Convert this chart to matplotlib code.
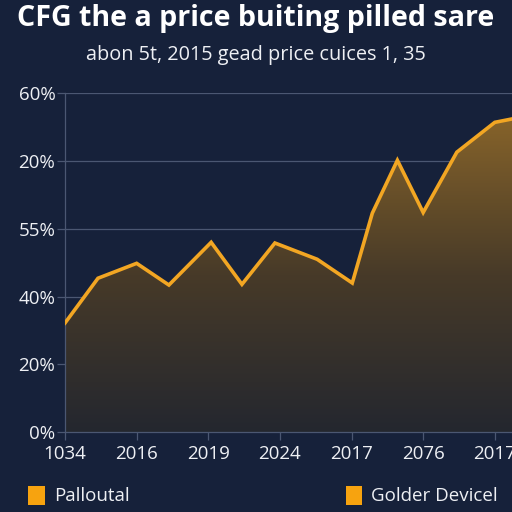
import numpy as np
import matplotlib.pyplot as plt
from matplotlib.patches import Polygon, Rectangle
from matplotlib.colors import LinearSegmentedColormap

# data (x in tick units, y in grid-step units)
x_vals = [0.0, 0.46, 1.0, 1.45, 2.04, 2.47, 2.93, 3.52, 4.01, 4.29, 4.64, 5.0, 5.47, 6.0, 6.24]
y_vals = [1.61, 2.27, 2.49, 2.17, 2.80, 2.18, 2.79, 2.55, 2.20, 3.23, 4.01, 3.24, 4.13, 4.57, 4.62]
x_labels = ['1034', '2016', '2019', '2024', '2017', '2076', '2017']
y_labels = ['0%', '20%', '40%', '55%', '20%', '60%']
legend_labels = ['Palloutal', 'Golder Devicel']

bg = '#16213a'
gold = '#f2a623'
grid_c = '#4b5772'
txt = '#eef0f4'

plt.rcParams['font.family'] = ['Open Sans', 'DejaVu Sans']

fig = plt.figure(figsize=(5.12, 5.12), dpi=100, facecolor=bg)
ax = fig.add_axes([0.127, 0.156, 0.873, 0.662], facecolor=bg)

xmax = 6.24
ax.set_xlim(0, xmax)
ax.set_ylim(0, 5)

# gradient fill under the line
cmap = LinearSegmentedColormap.from_list('g', ['#24272f', '#473a28', '#86632a'])
grad = np.linspace(0, 1, 256).reshape(-1, 1)
im = ax.imshow(grad, extent=[0, xmax, 0, max(y_vals)], origin='lower',
               aspect='auto', cmap=cmap, zorder=1)
poly = Polygon(list(zip(x_vals, y_vals)) + [(x_vals[-1], 0), (x_vals[0], 0)],
               closed=True, facecolor='none', edgecolor='none')
ax.add_patch(poly)
im.set_clip_path(poly)

ax.plot(x_vals, y_vals, color=gold, lw=2.6, solid_joinstyle='miter', zorder=3)

ax.set_yticks(range(len(y_labels)))
ax.set_yticklabels(y_labels)
ax.set_xticks(range(len(x_labels)))
ax.set_xticklabels(x_labels)
ax.grid(axis='y', color=grid_c, lw=0.9, zorder=0)
ax.set_axisbelow(True)
ax.tick_params(colors=grid_c, labelcolor=txt, labelsize=13.5, length=6, width=0.9)
ax.tick_params(axis='y', pad=1)
ax.tick_params(axis='x', pad=3)
for side in ['top', 'right']:
    ax.spines[side].set_visible(False)
for side in ['left', 'bottom']:
    ax.spines[side].set_color(grid_c)
    ax.spines[side].set_linewidth(0.9)

fig.text(0.5, 0.963, 'CFG the a price buiting pilled sare', ha='center', va='center',
         color='white', fontsize=20.6, fontweight='bold')
fig.text(0.5, 0.892, 'abon 5t, 2015 gead price cuices 1, 35', ha='center', va='center',
         color=txt, fontsize=14.3)

# legend squares at bottom
for lx, lab in zip([0.055, 0.675], legend_labels):
    fig.patches.append(Rectangle((lx, 0.014), 0.033, 0.036, transform=fig.transFigure,
                                 facecolor='#f7a30f', edgecolor='none'))
    fig.text(lx + 0.05, 0.031, lab, ha='left', va='center', color=txt, fontsize=13.5)

fig.savefig('out.png', dpi=100, facecolor=bg)
